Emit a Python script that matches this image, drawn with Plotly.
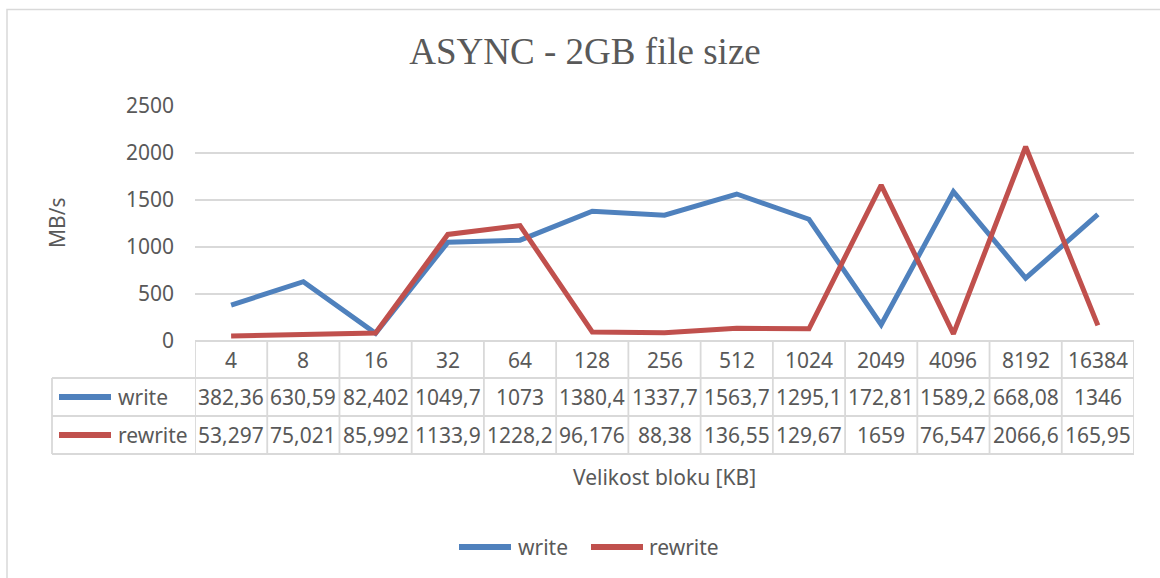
import plotly.graph_objects as go

categories = ["4", "8", "16", "32", "64", "128", "256", "512", "1024", "2049", "4096", "8192", "16384"]
write = [382.36, 630.59, 82.402, 1049.7, 1073, 1380.4, 1337.7, 1563.7, 1295.1, 172.81, 1589.2, 668.08, 1346]
rewrite = [53.297, 75.021, 85.992, 1133.9, 1228.2, 96.176, 88.38, 136.55, 129.67, 1659, 76.547, 2066.6, 165.95]
series = [("write", write, "#4F81BD"), ("rewrite", rewrite, "#C0504D")]

W, H = 1160, 578
FONT = "Noto Sans"
TXT = "#595959"
GRID = "#D9D9D9"
FS = 21

def px(x):
    return x / W

def py(y):
    return 1 - y / H

x_left, x_right = 195, 1134
y_top, y_zero = 106, 341
row_lines = [341, 378, 416, 454]
label_left = 52

fig = go.Figure()
for name, vals, col in series:
    fig.add_trace(go.Scatter(x=categories, y=vals, mode="lines", name=name,
                             line=dict(color=col, width=5)))

shapes = []
annotations = []

# table vertical lines at category boundaries
for i in range(len(categories) + 1):
    shapes.append(dict(type="line", xref="x", yref="paper", x0=i - 0.5, x1=i - 0.5,
                       y0=py(row_lines[0]), y1=py(row_lines[-1]),
                       line=dict(color=GRID, width=1.8)))
# left border of label column
shapes.append(dict(type="line", xref="paper", yref="paper", x0=px(label_left), x1=px(label_left),
                   y0=py(row_lines[1]), y1=py(row_lines[-1]), line=dict(color=GRID, width=1.8)))
# horizontal lines
for j, yy in enumerate(row_lines):
    x0 = x_left if j == 0 else label_left
    shapes.append(dict(type="line", xref="paper", yref="paper", x0=px(x0), x1=px(x_right),
                       y0=py(yy), y1=py(yy), line=dict(color=GRID, width=1.8)))

# header row
for i, c in enumerate(categories):
    annotations.append(dict(xref="x", yref="paper", x=i, y=py((row_lines[0] + row_lines[1]) / 2),
                            text=c, showarrow=False, yanchor="middle",
                            font=dict(family=FONT, size=FS, color=TXT)))

def fmt(v):
    return format(v, "g").replace(".", ",")

for r, (name, vals, col) in enumerate(series):
    yc = (row_lines[r + 1] + row_lines[r + 2]) / 2
    for i, v in enumerate(vals):
        annotations.append(dict(xref="x", yref="paper", x=i, y=py(yc), text=fmt(v),
                                showarrow=False, yanchor="middle",
                                font=dict(family=FONT, size=FS, color=TXT)))
    shapes.append(dict(type="line", xref="paper", yref="paper", x0=px(59), x1=px(111),
                       y0=py(yc), y1=py(yc), line=dict(color=col, width=6)))
    annotations.append(dict(xref="paper", yref="paper", x=px(116), y=py(yc), text=name,
                            showarrow=False, xanchor="left", yanchor="middle",
                            font=dict(family=FONT, size=FS, color=TXT)))

# legend (bottom)
legend_pos = [(459, 511, 516), (591, 643, 647)]
for (name, vals, col), (lx0, lx1, tx) in zip(series, legend_pos):
    shapes.append(dict(type="line", xref="paper", yref="paper", x0=px(lx0), x1=px(lx1),
                       y0=py(547), y1=py(547), line=dict(color=col, width=6)))
    annotations.append(dict(xref="paper", yref="paper", x=px(tx), y=py(547), text=name,
                            showarrow=False, xanchor="left", yanchor="middle",
                            font=dict(family=FONT, size=FS, color=TXT)))

# axis titles
annotations.append(dict(xref="paper", yref="paper", x=px((x_left + x_right) / 2), y=py(477),
                        text="Velikost bloku [KB]", showarrow=False, yanchor="middle",
                        font=dict(family=FONT, size=FS, color=TXT)))
annotations.append(dict(xref="paper", yref="paper", x=px(57), y=py(223),
                        text="MB/s", showarrow=False, textangle=-90, xanchor="center", yanchor="middle",
                        font=dict(family=FONT, size=FS, color=TXT)))

# chart border
shapes.append(dict(type="rect", xref="paper", yref="paper", x0=px(7), x1=px(1170),
                   y0=py(600), y1=py(9.5), line=dict(color=GRID, width=1.5)))

fig.update_layout(
    width=W, height=H,
    margin=dict(l=0, r=0, t=0, b=0, autoexpand=False),
    paper_bgcolor="white", plot_bgcolor="white",
    title=dict(text="ASYNC - 2GB file size", x=px(585), y=py(51), xanchor="center", yanchor="middle",
               font=dict(family="Liberation Serif", size=37, color=TXT)),
    xaxis=dict(type="category", domain=[px(x_left), px(x_right)], range=[-0.5, len(categories) - 0.5],
               showticklabels=False, showgrid=False, zeroline=False, showline=False, ticks="",
               automargin=False),
    yaxis=dict(domain=[py(y_zero), py(y_top)], range=[0, 2500], dtick=500, showgrid=True,
               gridcolor=GRID, gridwidth=1.5, zeroline=False, showline=False, ticks="",
               ticklabelstandoff=20, automargin=False,
               tickfont=dict(family=FONT, size=FS, color=TXT)),
    showlegend=False,
    hovermode=False,
    shapes=shapes,
    annotations=annotations,
)

fig.write_html("out.html", config={"displayModeBar": False},
               post_script="document.body.style.margin='0';")
